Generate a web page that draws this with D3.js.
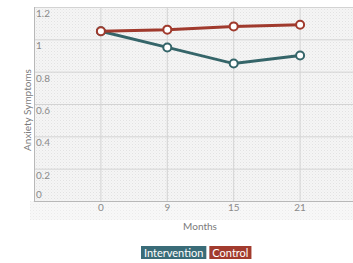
<!DOCTYPE html>
<html><head><meta charset="utf-8">
<script src="https://cdn.jsdelivr.net/npm/d3@7"></script>
<style>body{margin:0;background:#fff;} text{font-family:Lato,"Open Sans",sans-serif;}</style>
</head><body>
<svg id="c" width="353" height="263"></svg>
<script>
const categories = ["0","9","15","21"];
const intervention = [1.05, 0.95, 0.85, 0.90];
const control = [1.05, 1.06, 1.08, 1.09];
const yTicks = [0, 0.2, 0.4, 0.6, 0.8, 1, 1.2];
const seriesNames = ["Intervention","Control"];
const colors = ["#356569","#a03a2d"];
const legendColors = ["#3a6c78","#a23b2e"];

(function(){
const svg = d3.select("#c");
const pl = 34, pr = 366, pt = 7, pb = 201;
const x = d3.scaleLinear().domain([-1, categories.length]).range([pl, pr]);
const y = d3.scaleLinear().domain([0, 1.2]).range([pb, pt]);

const defs = svg.append("defs");
const pat = defs.append("pattern").attr("id","tex").attr("width",3).attr("height",3).attr("patternUnits","userSpaceOnUse");
pat.append("rect").attr("width",3).attr("height",3).attr("fill","#f5f5f5");
pat.append("rect").attr("width",1).attr("height",1).attr("fill","#e2e2e2");
pat.append("rect").attr("x",1.5).attr("y",1.5).attr("width",1).attr("height",1).attr("fill","#ebebeb");

svg.append("rect").attr("x",30).attr("y",pb).attr("width",353-30).attr("height",19).attr("fill","url(#tex)").attr("opacity",0.7);
svg.append("rect").attr("x",pl).attr("y",pt).attr("width",pr-pl).attr("height",pb-pt).attr("fill","url(#tex)");

svg.append("g").selectAll("line").data(yTicks).join("line")
  .attr("x1",pl).attr("x2",353).attr("y1",d=>y(d)+0.5).attr("y2",d=>y(d)+0.5)
  .attr("stroke",d=>d===0?"#b8b8b8":"#d3d3d3").attr("stroke-width",1);
svg.append("g").selectAll("line").data(categories).join("line")
  .attr("x1",(d,i)=>x(i)+0.5).attr("x2",(d,i)=>x(i)+0.5).attr("y1",pt).attr("y2",pb)
  .attr("stroke","#d3d3d3");
svg.append("line").attr("x1",pl+0.5).attr("x2",pl+0.5).attr("y1",pt).attr("y2",pb+1).attr("stroke","#b8b8b8");

svg.append("g").selectAll("text").data(yTicks).join("text")
  .attr("x",pl+2).attr("y",d=>d===0?y(d)-3:y(d)+10)
  .attr("font-size",10).attr("fill","#8a8a8a")
  .text(d=>d===0?"0":d3.format("")(d));

svg.append("g").selectAll("text").data(categories).join("text")
  .attr("x",(d,i)=>x(i)+0.5).attr("y",211).attr("text-anchor","middle")
  .attr("font-size",10).attr("fill","#8a8a8a").text(d=>d);

svg.append("text").attr("x",200).attr("y",230).attr("text-anchor","middle")
  .attr("font-size",10).attr("fill","#7a7a7a").text("Months");
svg.append("text").attr("transform","translate(31,110) rotate(-90)").attr("text-anchor","middle")
  .attr("font-size",10).attr("fill","#7a7a7a").text("Anxiety Symptoms");

const data = [intervention, control];
const line = d3.line().x((d,i)=>x(i)+0.5).y(d=>y(d));
data.forEach((vals,k)=>{
  svg.append("path").datum(vals).attr("d",line).attr("fill","none")
    .attr("stroke",colors[k]).attr("stroke-width",3);
});
data.forEach((vals,k)=>{
  svg.append("g").selectAll("circle").data(vals).join("circle")
    .attr("cx",(d,i)=>x(i)+0.5).attr("cy",d=>y(d)).attr("r",4)
    .attr("fill","#fff").attr("stroke",colors[k]).attr("stroke-width",2);
});

const lg = svg.append("g");
let lx = 141;
seriesNames.forEach((n,k)=>{
  const g = lg.append("g");
  const t = g.append("text").attr("y",256.5).attr("font-size",11)
    .attr("fill","#fff").text(n);
  const w = t.node().getComputedTextLength();
  g.insert("rect","text").attr("x",lx).attr("y",246).attr("width",w+6).attr("height",13).attr("fill",legendColors[k]);
  t.attr("x",lx+3);
  lx += w + 6 + 3;
});
})();
</script>
</body></html>
